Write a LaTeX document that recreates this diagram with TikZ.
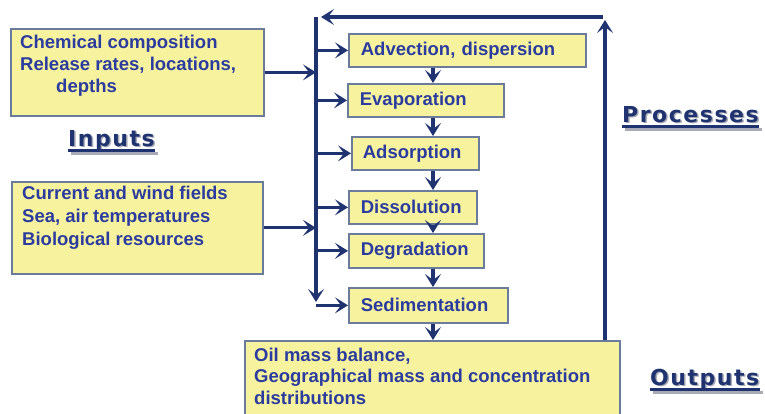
\documentclass[tikz,border=0pt]{standalone}
\usepackage{fontspec}
\setmainfont{Liberation Sans}
\newfontfamily\lblfont[LetterSpace=7]{DejaVu Sans}
\usetikzlibrary{arrows.meta}
\definecolor{boxfill}{HTML}{F6F29E}
\definecolor{boxline}{HTML}{6B7B9B}
\definecolor{txtblue}{HTML}{2B3C9E}
\definecolor{navy}{HTML}{1F3370}
\definecolor{shadowgray}{HTML}{A8AAB5}
\begin{document}
\begin{tikzpicture}[x=1pt,y=-1pt,
  box/.style={draw=boxline, fill=boxfill, line width=1.7pt, rectangle, anchor=north west, inner sep=0pt},
  txt/.style={text=txtblue, font=\fontsize{18.5}{22}\selectfont\bfseries, align=left, anchor=north west, inner sep=0pt},
  pbox/.style={box, text=txtblue, font=\fontsize{18.5}{22}\selectfont\bfseries, align=left, inner xsep=12pt, minimum height=33pt},
  arr/.style={navy, line width=3.2pt, -{Stealth[length=13pt,width=16pt,inset=6pt]}},
  lbl/.style={font=\fontsize{22}{26}\selectfont\lblfont\bfseries, anchor=base west, inner sep=0pt},
  uline/.style={line width=2.6pt},
]
\useasboundingbox (0,0) rectangle (765,413);
\clip (0,0) rectangle (765,413);

% input boxes
\node[box, minimum width=253pt, minimum height=87pt] (in1) at (10,28) {};
\node[txt] (in1t) at (20,35) {Chemical composition\\Release rates, locations,\\\hspace*{36pt}depths};
\node[box, minimum width=251pt, minimum height=92pt] (in2) at (11,181) {};
\node[txt, font=\fontsize{18.5}{23}\selectfont\bfseries] (in2t) at (22,186) {Current and wind fields\\Sea, air temperatures\\Biological resources};

% process boxes
\node[pbox, text width=213pt] (adv) at (348,33) {Advection, dispersion};
\node[pbox, text width=132pt] (evap) at (347,83) {Evaporation};
\node[pbox, text width=105pt, inner xsep=11pt] (ads) at (351,136) {Adsorption};
\node[pbox, text width=104pt] (diss) at (348,190) {Dissolution};
\node[pbox, text width=111pt, minimum height=34pt] (deg) at (348,233) {Degradation};
\node[pbox, text width=135pt, minimum height=35pt] (sed) at (348,287) {Sedimentation};

% output box
\node[box, minimum width=375pt, minimum height=90pt] (out) at (244,340) {};
\node[txt, font=\fontsize{18.5}{21.5}\selectfont\bfseries] (outt) at (254,347.5) {Oil mass balance,\\Geographical mass and concentration\\distributions};

% bus and loop coordinates
\coordinate (bustop) at (316,17);
\coordinate (busbot) at (316,302);
\coordinate (topR) at (603,17);
\coordinate (topL) at (321,17);
\coordinate (rightup) at (605,20);
\coordinate (colx) at (433,0);

\draw[arr] (bustop) -- (busbot);
\draw[arr] (topR) -- (topL);
\draw[arr] (out.north -| rightup) -- (rightup);

% inputs to bus
\draw[arr] (in1.east) -- (in1.east -| bustop);
\draw[arr] (in2.east) -- (in2.east -| bustop);

% bus to processes
\foreach \p in {adv,evap,ads,diss,deg,sed}
  \draw[arr] (\p.west -| bustop) -- (\p.west);

% chain
\draw[arr] (adv.south -| colx) -- (evap.north -| colx);
\draw[arr] (evap.south -| colx) -- (ads.north -| colx);
\draw[arr] (ads.south -| colx) -- (diss.north -| colx);
\draw[arr] (diss.south -| colx) -- (deg.north -| colx);
\draw[arr] (deg.south -| colx) -- (sed.north -| colx);
\draw[arr] (sed.south -| colx) -- (out.north -| colx);

% labels with shadow
\node[lbl, text=shadowgray] (inS) at (69.5,147.5) {Inputs};
\draw[shadowgray, uline] ([xshift=1.5pt,yshift=-6pt]inS.base west) -- ([xshift=1.5pt,yshift=-6pt]inS.base east);
\node[lbl, text=navy] (inL) at (68,146) {Inputs};
\draw[navy, uline] ([yshift=-4.5pt]inL.base west) -- ([yshift=-4.5pt]inL.base east);

\node[lbl, text=shadowgray] (prS) at (623.5,123.5) {Processes};
\draw[shadowgray, uline] ([xshift=1.5pt,yshift=-6pt]prS.base west) -- ([xshift=1.5pt,yshift=-6pt]prS.base east);
\node[lbl, text=navy] (prL) at (622,122) {Processes};
\draw[navy, uline] ([yshift=-4.5pt]prL.base west) -- ([yshift=-4.5pt]prL.base east);

\node[lbl, text=shadowgray] (ouS) at (651.5,386.5) {Outputs};
\draw[shadowgray, uline] ([xshift=1.5pt,yshift=-6pt]ouS.base west) -- ([xshift=1.5pt,yshift=-6pt]ouS.base east);
\node[lbl, text=navy] (ouL) at (650,385) {Outputs};
\draw[navy, uline] ([yshift=-4.5pt]ouL.base west) -- ([yshift=-4.5pt]ouL.base east);
\end{tikzpicture}
\end{document}
